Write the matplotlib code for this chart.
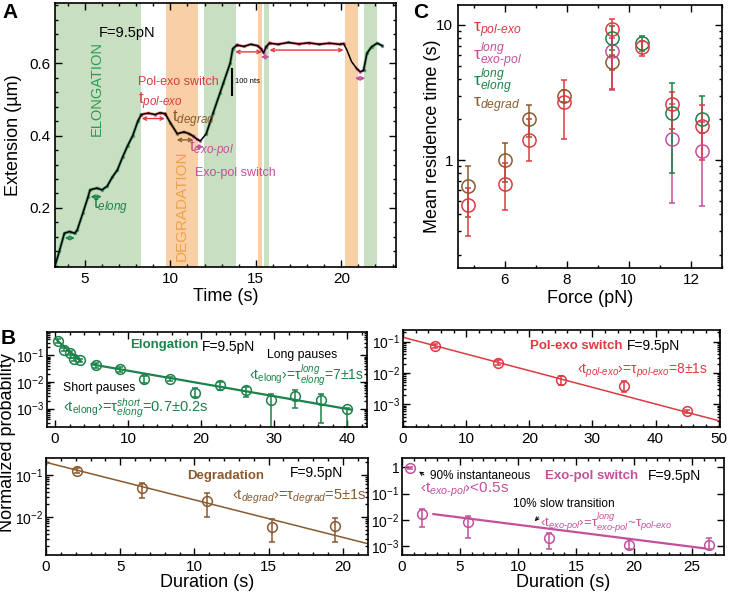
import numpy as np
import matplotlib
matplotlib.use('Agg')
import matplotlib.pyplot as plt
from matplotlib.ticker import MultipleLocator, LogLocator, NullFormatter, FixedLocator, FuncFormatter

plt.rcParams['font.family'] = ['Liberation Sans', 'DejaVu Sans']
plt.rcParams['mathtext.fontset'] = 'custom'
plt.rcParams['mathtext.rm'] = 'Liberation Sans'
plt.rcParams['mathtext.it'] = 'Liberation Sans:italic'
plt.rcParams['mathtext.bf'] = 'Liberation Sans:bold'

GREEN = '#1b8249'
RED = '#dc3a42'
PINK = '#c4509c'
BROWN = '#8b5a2e'
BAND_G = '#c8dfc2'
BAND_O = '#f9d0a6'

# ---------------- Panel A: extension trace ----------------
t_trace = [3.25, 3.5, 3.8, 4.1, 4.4, 4.55, 4.88, 5.18, 5.3, 5.7, 6.0, 6.3, 6.6, 6.9, 7.2, 7.5, 7.8,
           8.1, 8.3, 8.7, 9.1, 9.4, 9.7, 10.0, 10.4, 10.8, 11.1, 11.35, 11.55, 11.75, 12.1, 12.5,
           12.9, 13.1, 13.5, 13.65, 13.9, 14.3, 14.7, 15.1, 15.3, 15.45, 15.6, 15.8, 16.3, 16.9,
           17.5, 18.1, 18.7, 19.3, 19.9, 20.13, 20.33, 20.6, 20.9, 21.1, 21.3, 21.5, 21.77, 22.1, 22.4]
e_trace = [0.04, 0.08, 0.13, 0.135, 0.13, 0.139, 0.186, 0.23, 0.25, 0.255, 0.25, 0.26, 0.285,
           0.305, 0.34, 0.372, 0.40, 0.44, 0.458, 0.462, 0.458, 0.463, 0.46, 0.435, 0.405, 0.41,
           0.405, 0.398, 0.39, 0.385, 0.405, 0.462, 0.517, 0.545, 0.60, 0.64, 0.65, 0.646, 0.652,
           0.648, 0.64, 0.628, 0.645, 0.655, 0.652, 0.657, 0.653, 0.656, 0.652, 0.655, 0.652,
           0.654, 0.636, 0.604, 0.585, 0.576, 0.58, 0.627, 0.645, 0.655, 0.648]

green_bands = [(3.25, 8.26), (11.96, 13.83), (15.49, 15.78), (21.33, 22.06)]
orange_bands = [(9.74, 11.63), (15.13, 15.37), (20.2, 20.96)]

# phase colouring of the raw trace: (start, end, colour)
phases = [(3.25, 8.3, GREEN), (8.3, 9.7, RED), (9.7, 11.35, BROWN), (11.35, 11.9, PINK),
          (11.9, 13.9, GREEN), (13.9, 15.3, RED), (15.3, 15.6, PINK), (15.6, 15.8, GREEN),
          (15.8, 20.13, RED), (20.9, 21.3, PINK), (21.3, 22.4, GREEN)]

# double arrows: (t0, t1, extension, colour)
arrows_A = [(3.83, 4.41, 0.117, GREEN), (5.33, 5.98, 0.231, GREEN), (8.32, 9.68, 0.447, RED),
            (10.37, 11.34, 0.388, BROWN), (11.44, 11.93, 0.369, PINK), (13.79, 15.35, 0.631, RED),
            (15.3, 15.8, 0.617, PINK), (15.8, 20.13, 0.636, RED), (20.8, 21.4, 0.558, PINK)]

# ---------------- Panel C: mean residence time ----------------
F_polexo = [4.83, 6.0, 6.8, 7.92, 9.46, 10.42, 11.38, 12.34]
tau_polexo = [0.47, 0.67, 1.42, 2.68, 9.3, 6.9, 2.62, 1.78]
lo_polexo = [0.275, 0.43, 0.98, 1.44, 3.36, 5.85, 1.7, 1.0]
hi_polexo = [0.62, 0.95, 2.0, 3.93, 11.0, 7.6, 3.2, 2.57]

F_degrad = [4.83, 6.0, 6.8, 7.92, 9.46]
tau_degrad = [0.64, 1.0, 2.02, 3.0, 5.28]
lo_degrad = [0.38, 0.69, 1.49, 2.7, 4.6]
hi_degrad = [0.9, 1.33, 2.57, 3.3, 6.0]

F_elong = [9.46, 10.42, 11.38, 12.34]
tau_elong = [7.97, 7.3, 2.23, 2.02]
lo_elong = [6.5, 6.4, 0.81, 1.6]
hi_elong = [9.8, 8.3, 3.71, 2.96]

F_exopol = [9.46, 11.38, 12.34]
tau_exopol = [6.36, 1.44, 1.16]
lo_exopol = [3.3, 0.48, 0.46]
hi_exopol = [8.0, 2.6, 1.9]

# ---------------- Panel B: dwell-time distributions ----------------
el_x = [0.45, 1.23, 2.05, 2.6, 3.4, 5.6, 8.9, 12.2, 15.8, 19.2, 22.6, 26.1, 29.5, 32.9, 36.4, 40.0]
el_y = [0.35, 0.163, 0.122, 0.07, 0.065, 0.042, 0.030, 0.0126, 0.013, 0.004, 0.0075, 0.0049,
        0.0021, 0.003, 0.0021, 0.001]
el_lo = [0.3, 0.14, 0.105, 0.06, 0.056, 0.034, 0.024, 0.0092, 0.011, 0.0027, 0.0052, 0.0027,
         0.0001, 0.0011, 0.0003, 0.0002]
el_hi = [0.41, 0.19, 0.14, 0.082, 0.075, 0.051, 0.037, 0.0168, 0.016, 0.0061, 0.01, 0.0065,
         0.0037, 0.0049, 0.0034, 0.0011]
el_fit_short_x = [0.3, 3.5]
el_fit_short_y = [0.36, 0.062]
el_fit_long_x = [5.0, 40.5]
el_fit_long_y = [0.046, 0.00092]

pe_x = [5, 15, 25, 35, 45]
pe_y = [0.074, 0.021, 0.0059, 0.0038, 0.0006]
pe_lo = [0.065, 0.018, 0.0042, 0.0025, 0.00053]
pe_hi = [0.084, 0.025, 0.0078, 0.0055, 0.00067]
pe_fit_x = [0, 50.2]
pe_fit_y = [0.138, 0.00029]

dg_x = [2.09, 6.5, 10.86, 15.2, 19.5]
dg_y = [0.126, 0.048, 0.024, 0.0059, 0.006]
dg_lo = [0.11, 0.029, 0.0102, 0.0026, 0.0026]
dg_hi = [0.145, 0.063, 0.037, 0.0089, 0.0092]
dg_fit_x = [0, 21.7]
dg_fit_y = [0.2, 0.0023]

ep_x = [0.7, 1.7, 5.66, 12.7, 19.6, 26.5]
ep_y = [0.92, 0.0166, 0.0085, 0.0021, 0.0011, 0.0011]
ep_lo = [0.85, 0.0052, 0.002, 0.00075, 0.00075, 0.00075]
ep_hi = [1.0, 0.025, 0.014, 0.0033, 0.0018, 0.002]
ep_fit_x = [2.7, 26.1]
ep_fit_y = [0.0166, 0.00082]


def it(s):
    return r'\mathit{' + s.replace('-', r'}\text{-}\mathit{') + '}'


def sub(s):
    return '$_{' + it(s) + '}$'


def tau(sb, sp=None):
    if sp is None:
        return r'$\mathrm{\tau}_{' + it(sb) + '}$'
    return r'$\mathrm{\tau}^{' + it(sp) + '}_{' + it(sb) + '}$'


def style(ax, size):
    ax.tick_params(which='both', direction='in', top=True, right=True, labelsize=size, width=1)
    ax.tick_params(which='major', length=5)
    ax.tick_params(which='minor', length=2.5)
    for s in ax.spines.values():
        s.set_linewidth(1.2)


def logticks(ax):
    ax.yaxis.set_minor_locator(LogLocator(base=10, subs=np.arange(2, 10)))
    ax.yaxis.set_minor_formatter(NullFormatter())


W, H = 730, 593


def box(l, t, r, b):
    return [l / W, 1 - b / H, (r - l) / W, (b - t) / H]


fig = plt.figure(figsize=(7.3, 5.93), dpi=100)

# ---------- A ----------
axA = fig.add_axes(box(55, 3, 396, 267))
for a, b in green_bands:
    axA.axvspan(a, b, color=BAND_G, lw=0)
for a, b in orange_bands:
    axA.axvspan(a, b, color=BAND_O, lw=0)
t_arr = np.array(t_trace)
e_arr = np.array(e_trace)
for a, b, c in phases:
    m = (t_arr >= a - 1e-6) & (t_arr <= b + 1e-6)
    axA.plot(t_arr[m], e_arr[m], color=c, lw=2.2, alpha=0.55, marker='.', ms=3)
axA.plot(t_trace, e_trace, color='black', lw=1.1)
for t0, t1, e, c in arrows_A:
    axA.annotate('', xy=(t0, e), xytext=(t1, e),
                 arrowprops=dict(arrowstyle='<->', color=c, lw=1, mutation_scale=6,
                                 shrinkA=0, shrinkB=0))
axA.plot([13.59, 13.59], [0.512, 0.585], color='black', lw=1.5)
axA.text(13.8, 0.548, '100 nts', fontsize=5.5, va='center')
axA.text(7.46, 0.683, 'F=9.5pN', fontsize=10.5, ha='center', va='center')
axA.text(5.7, 0.531, 'ELONGATION', fontsize=10.5, color='#2f9a55', rotation=90,
         ha='center', va='center')
axA.text(10.68, 0.206, 'DEGRADATION', fontsize=11, color='#f0a04a', rotation=90,
         ha='center', va='center')
axA.text(8.1, 0.548, 'Pol-exo switch', fontsize=9, color=RED, va='center')
axA.text(8.1, 0.495, 't' + sub('pol-exo'), fontsize=12, color=RED, va='center')
axA.text(10.08, 0.445, 't' + sub('degrad'), fontsize=12, color=BROWN, va='center')
axA.text(11.1, 0.362, 't' + sub('exo-pol'), fontsize=12, color=PINK, va='center')
axA.text(11.44, 0.297, 'Exo-pol switch', fontsize=9, color=PINK, va='center')
axA.text(5.45, 0.205, 't' + sub('elong'), fontsize=12, color=GREEN, va='center')
axA.set_xlim(3.25, 23.2)
axA.set_ylim(0.037, 0.766)
axA.set_xticks([5, 10, 15, 20])
axA.set_yticks([0.2, 0.4, 0.6])
axA.xaxis.set_minor_locator(MultipleLocator(1))
axA.yaxis.set_minor_locator(MultipleLocator(0.04))
style(axA, 11)
axA.set_xlabel('Time (s)', fontsize=13)
axA.xaxis.set_label_coords(0.5, -0.08)
axA.set_ylabel('Extension (\u00b5m)', fontsize=13)
axA.yaxis.set_label_coords(-0.097, 0.5)

# ---------- C ----------
axC = fig.add_axes(box(458, 5, 722, 268))
ckw = dict(fmt='o', ms=9.5, mfc='none', mew=1.1, capsize=2, elinewidth=1.1, capthick=1)
for F, tv, lo, hi, c in [(F_degrad, tau_degrad, lo_degrad, hi_degrad, BROWN),
                         (F_exopol, tau_exopol, lo_exopol, hi_exopol, PINK),
                         (F_elong, tau_elong, lo_elong, hi_elong, GREEN),
                         (F_polexo, tau_polexo, lo_polexo, hi_polexo, RED)]:
    tv = np.array(tv)
    axC.errorbar(F, tv, yerr=[tv - np.array(lo), np.array(hi) - tv], color=c, **ckw)
axC.set_yscale('log')
axC.set_xlim(4.5, 13.0)
axC.set_ylim(0.16, 14)
axC.set_xticks([6, 8, 10, 12])
axC.xaxis.set_minor_locator(MultipleLocator(1))
axC.yaxis.set_major_formatter(FuncFormatter(lambda v, p: '%g' % v))
logticks(axC)
style(axC, 11)
axC.set_xlabel('Force (pN)', fontsize=13)
axC.xaxis.set_label_coords(0.5, -0.084)
axC.set_ylabel('Mean residence time (s)', fontsize=13)
axC.yaxis.set_label_coords(-0.064, 0.5)
trc = axC.transAxes
axC.text(0.057, 0.905, tau('pol-exo'), transform=trc, fontsize=12.5, color=RED, va='center')
axC.text(0.057, 0.806, tau('exo-pol', 'long'), transform=trc, fontsize=12.5, color=PINK,
         va='center')
axC.text(0.057, 0.706, tau('elong', 'long'), transform=trc, fontsize=12.5, color=GREEN,
         va='center')
axC.text(0.057, 0.618, tau('degrad'), transform=trc, fontsize=12.5, color=BROWN, va='center')

# ---------- B ----------
bkw = dict(fmt='o', ms=7, mfc='none', mew=1.1, capsize=2.5, elinewidth=1.1, capthick=1)


def eb(ax, x, y, lo, hi, c):
    y = np.array(y)
    ax.errorbar(x, y, yerr=[y - np.array(lo), np.array(hi) - y], color=c, **bkw)


def logy(ax, vals, labels):
    ax.set_yscale('log')
    ax.yaxis.set_major_locator(FixedLocator(vals))
    ax.set_yticklabels(labels)
    logticks(ax)
    style(ax, 10)
    ax.tick_params(axis='y', pad=2)


dec3 = ['$10^{-3}$', '$10^{-2}$', '$10^{-1}$']

axE = fig.add_axes(box(47, 332, 367, 427))
eb(axE, el_x, el_y, el_lo, el_hi, GREEN)
axE.plot(el_fit_short_x, el_fit_short_y, color=GREEN, lw=1.6)
axE.plot(el_fit_long_x, el_fit_long_y, color=GREEN, lw=1.6)
logy(axE, [1e-3, 1e-2, 1e-1], dec3)
axE.set_xlim(-1.1, 42.7)
axE.set_ylim(0.000205, 0.75)
axE.set_xticks([0, 10, 20, 30, 40])
axE.xaxis.set_minor_locator(MultipleLocator(2))
axE.tick_params(axis='x', labelsize=11)
tr = axE.transAxes
axE.text(0.259, 0.863, 'Elongation', transform=tr, fontsize=9.5, fontweight='bold',
         color=GREEN, va='center')
axE.text(0.484, 0.842, 'F=9.5pN', transform=tr, fontsize=10, va='center')
axE.text(0.6875, 0.757, 'Long pauses', transform=tr, fontsize=8.8, va='center')
axE.text(0.99, 0.55, '\u2039t$_{\\mathrm{elong}}$\u203a=' + tau('elong', 'long') + '=7\u00b11s',
         transform=tr, fontsize=10, color=GREEN, va='center', ha='right')
axE.text(0.05, 0.41, 'Short pauses', transform=tr, fontsize=8.8, va='center')
axE.text(0.05, 0.2, '\u2039t$_{\\mathrm{elong}}$\u203a=' + tau('elong', 'short') + '=0.7\u00b10.2s',
         transform=tr, fontsize=10.5, color=GREEN, va='center')

axP = fig.add_axes(box(403, 330, 720, 427))
eb(axP, pe_x, pe_y, pe_lo, pe_hi, RED)
axP.plot(pe_fit_x, pe_fit_y, color=RED, lw=1.1)
logy(axP, [1e-3, 1e-2, 1e-1], dec3)
axP.set_xlim(0, 50.2)
axP.set_ylim(0.000187, 0.236)
axP.set_xticks([0, 10, 20, 30, 40, 50])
axP.xaxis.set_minor_locator(MultipleLocator(2))
axP.tick_params(axis='x', labelsize=11)
tr = axP.transAxes
axP.text(0.40, 0.835, 'Pol-exo switch', transform=tr, fontsize=9.5, fontweight='bold',
         color=RED, va='center')
axP.text(0.707, 0.835, 'F=9.5pN', transform=tr, fontsize=10, va='center')
axP.text(0.962, 0.577, '\u2039t' + sub('pol-exo') + '\u203a=' + tau('pol-exo') + '=8\u00b11s',
         transform=tr, fontsize=10, color=RED, va='center', ha='right')

axD = fig.add_axes(box(46, 458, 368, 555))
eb(axD, dg_x, dg_y, dg_lo, dg_hi, BROWN)
axD.plot(dg_fit_x, dg_fit_y, color=BROWN, lw=1.1)
logy(axD, [1e-2, 1e-1], dec3[1:])
axD.set_xlim(0, 21.7)
axD.set_ylim(0.00124, 0.254)
axD.set_xticks([0, 5, 10, 15, 20])
axD.xaxis.set_minor_locator(MultipleLocator(1))
axD.tick_params(axis='x', labelsize=11)
axD.set_xlabel('Duration (s)', fontsize=13, labelpad=0)
tr = axD.transAxes
axD.text(0.438, 0.814, 'Degradation', transform=tr, fontsize=9.5, fontweight='bold',
         color=BROWN, va='center')
axD.text(0.758, 0.845, 'F=9.5pN', transform=tr, fontsize=10, va='center')
axD.text(0.997, 0.598, '\u2039t' + sub('degrad') + '\u203a=' + tau('degrad') + '=5\u00b11s',
         transform=tr, fontsize=10.5, color=BROWN, va='center', ha='right')

axX = fig.add_axes(box(402, 458, 724, 555))
eb(axX, ep_x, ep_y, ep_lo, ep_hi, PINK)
axX.plot(ep_fit_x, ep_fit_y, color=PINK, lw=1.6)
logy(axX, [1e-3, 1e-2, 1e-1, 1], dec3 + ['1'])
axX.set_xlim(0, 27.75)
axX.set_ylim(0.00046, 2.27)
axX.set_xticks([0, 5, 10, 15, 20, 25])
axX.xaxis.set_minor_locator(MultipleLocator(1))
axX.tick_params(axis='x', labelsize=11)
axX.set_xlabel('Duration (s)', fontsize=13, labelpad=0)
tr = axX.transAxes
axX.annotate('', xy=(0.046, 0.876), xytext=(0.075, 0.81), xycoords=tr, textcoords=tr,
             arrowprops=dict(arrowstyle='->', color='black', lw=0.7, mutation_scale=6))
axX.text(0.087, 0.814, '90% instantaneous', transform=tr, fontsize=8.5, va='center')
axX.text(0.056, 0.67, '\u2039t' + sub('exo-pol') + '\u203a<0.5s', transform=tr, fontsize=11,
         color=PINK, va='center')
axX.text(0.444, 0.814, 'Exo-pol switch', transform=tr, fontsize=9.5, fontweight='bold',
         color=PINK, va='center')
axX.text(0.764, 0.814, 'F=9.5pN', transform=tr, fontsize=10, va='center')
axX.text(0.345, 0.526, '10% slow transition', transform=tr, fontsize=8.5, va='center')
axX.annotate('', xy=(0.407, 0.326), xytext=(0.429, 0.412), xycoords=tr, textcoords=tr,
             arrowprops=dict(arrowstyle='->', color='black', lw=0.7, mutation_scale=6))
axX.text(0.429, 0.33, '\u2039t' + sub('exo-pol') + '\u203a=' + tau('exo-pol', 'long')
         + '~' + tau('pol-exo'), transform=tr, fontsize=9.5, color=PINK, va='center')

fig.text(8 / W, 1 - 443 / H, 'Normalized probability', fontsize=13, rotation=90,
         ha='center', va='center')

fig.text(2 / W, 1 - 13 / H, 'A', fontsize=15, fontweight='bold', va='center')
fig.text(413 / W, 1 - 13 / H, 'C', fontsize=15, fontweight='bold', va='center')
fig.text(1 / W, 1 - 338 / H, 'B', fontsize=15, fontweight='bold', va='center')

fig.savefig('out.png', dpi=100)
